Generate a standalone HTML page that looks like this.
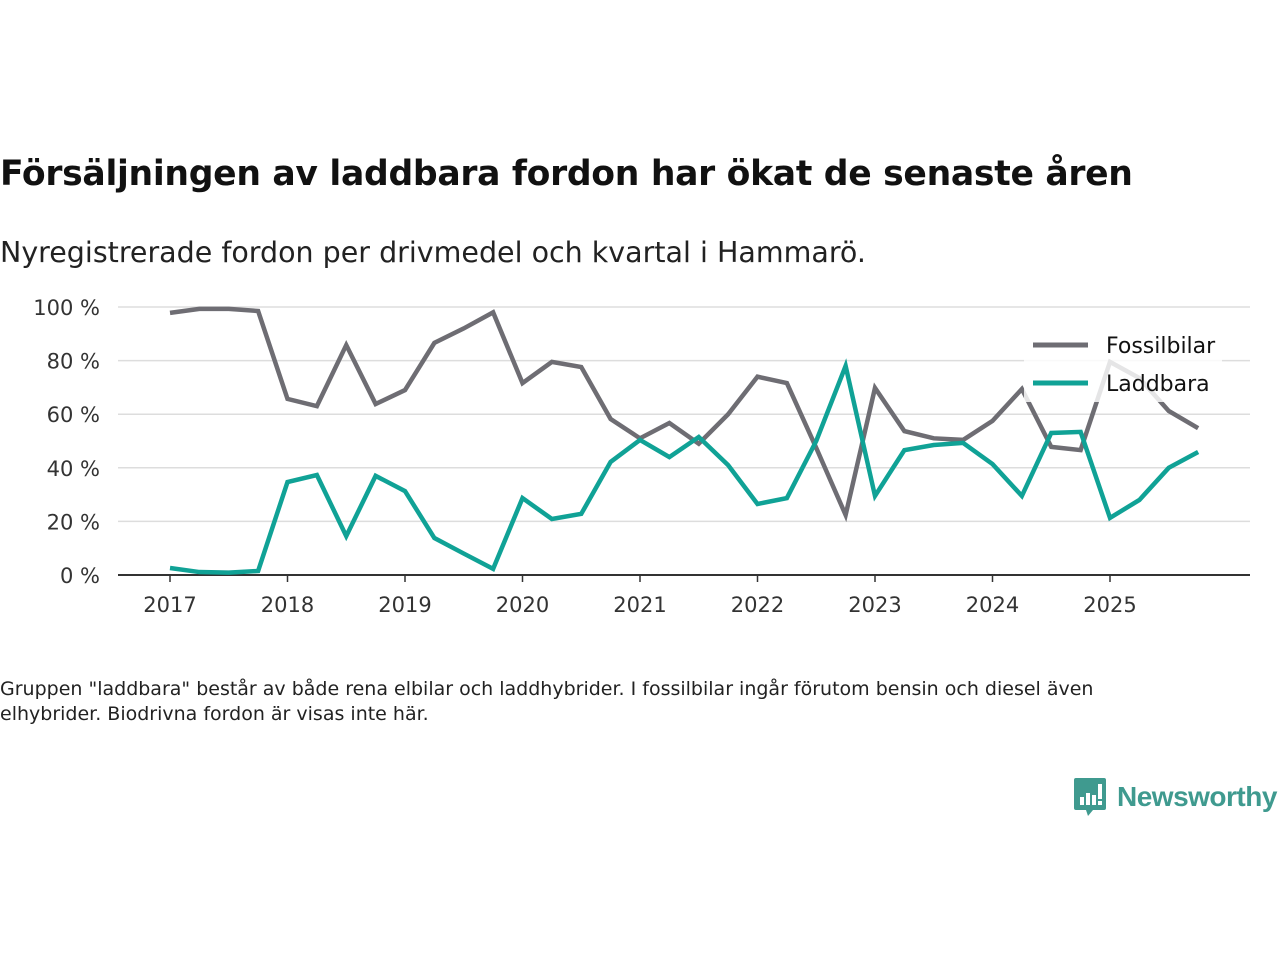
<!DOCTYPE html>
<html><head><meta charset="utf-8"><style>
body{margin:0;background:#fff;width:1280px;height:960px;overflow:hidden;font-family:"DejaVu Sans","Liberation Sans",sans-serif;color:#111}
h1{position:absolute;left:0;top:154px;margin:0;font-size:34.6px;font-weight:bold;letter-spacing:-0.3px}
.sub{position:absolute;left:0;top:236px;font-size:28.5px;color:#222}
.note{position:absolute;left:0;top:677px;font-size:19px;line-height:25px;color:#222;width:1190px}
svg text{font-family:"DejaVu Sans","Liberation Sans",sans-serif}
</style></head><body>
<h1>Försäljningen av laddbara fordon har ökat de senaste åren</h1>
<div class="sub">Nyregistrerade fordon per drivmedel och kvartal i Hammarö.</div>
<svg id="chart" width="1280" height="960" style="position:absolute;left:0;top:0"></svg>
<div class="note">Gruppen "laddbara" består av både rena elbilar och laddhybrider. I fossilbilar ingår förutom bensin och diesel även elhybrider. Biodrivna fordon är visas inte här.</div>
<div style="position:absolute;left:1073px;top:777px;display:flex;align-items:center">
<svg width="34" height="40" viewBox="0 0 34 40"><path d="M3 1h28a2 2 0 0 1 2 2v28a2 2 0 0 1-2 2H20l-5 6-2-6H3a2 2 0 0 1-2-2V3a2 2 0 0 1 2-2z" fill="#3f9a8f"/><rect x="7" y="20" width="4" height="8" fill="#fff"/><rect x="13" y="16" width="4" height="12" fill="#fff"/><rect x="19" y="18" width="4" height="10" fill="#fff"/><rect x="25" y="7" width="4" height="15" fill="#fff"/><rect x="25" y="24" width="4" height="4" fill="#fff"/></svg>
<span style="font-family:'Liberation Sans',sans-serif;font-size:28px;color:#3f9a8f;margin-left:10px;font-weight:bold;letter-spacing:-0.5px">Newsworthy</span></div>
<script>
const years=["2017","2018","2019","2020","2021","2022","2023","2024","2025"];
const yTicks=[0,20,40,60,80,100];
const fossil=[97.8,99.3,99.3,98.5,65.7,63,85.8,63.8,69,86.6,92,98,71.6,79.5,77.6,58.2,51,56.7,49,60,74,71.6,47.4,22.4,69.8,53.7,51,50.4,57.5,69.4,47.8,46.6,79.5,73.5,61.2,54.8];
const laddbara=[2.6,1.1,0.9,1.5,34.7,37.3,14.5,37,31.3,13.8,8,2.3,28.7,20.9,22.8,42.2,50.4,44,51.5,41,26.5,28.7,50,78,29.5,46.6,48.5,49.3,41.4,29.5,53,53.4,21.3,28,40,45.9];
const svg=document.getElementById('chart');const NS='http://www.w3.org/2000/svg';
const x=i=>170+i*(1110-170)/32;const y=v=>575-v*2.68;
function el(t,a){const e=document.createElementNS(NS,t);for(const k in a)e.setAttribute(k,a[k]);svg.appendChild(e);return e;}
yTicks.forEach(v=>{
 if(v>0){const g=el('line',{x1:118,x2:1250,y1:y(v),y2:y(v),stroke:'#ddd','stroke-width':1.5});
 
 }
 const t=el('text',{x:100,y:y(v)+8,'text-anchor':'end','font-size':21,fill:'#333'});t.textContent=v+' %';
 
 
});
const ax=el('line',{x1:118,x2:1250,y1:575,y2:575,stroke:'#333','stroke-width':2});


years.forEach((yr,k)=>{const xx=x(k*4);
 el('line',{x1:xx,x2:xx,y1:575,y2:582,stroke:'#333','stroke-width':1.5});
 const t=el('text',{x:xx,y:612,'text-anchor':'middle','font-size':21,fill:'#333'});t.textContent=yr;
 
 
});
function line(d,c,n){const p=el('polyline',{points:d.map((v,i)=>x(i)+','+y(v)).join(' '),fill:'none',stroke:c,'stroke-width':4.5,'stroke-linejoin':'miter'});
 
 }
line(fossil,'#6e6d73','fossilbilar-line');
line(laddbara,'#10a296','laddbara-line');
const lb=el('rect',{x:1024,y:324,width:198,height:78,fill:'#fff','fill-opacity':0.82});


[['Fossilbilar','#6e6d73',345],['Laddbara','#10a296',383]].forEach(([n,c,yy])=>{
 el('line',{x1:1033,x2:1088,y1:yy,y2:yy,stroke:c,'stroke-width':5});
 const t=el('text',{x:1106,y:yy+8,'font-size':22,fill:'#111'});t.textContent=n;
 
 
});
</script>
</body></html>
